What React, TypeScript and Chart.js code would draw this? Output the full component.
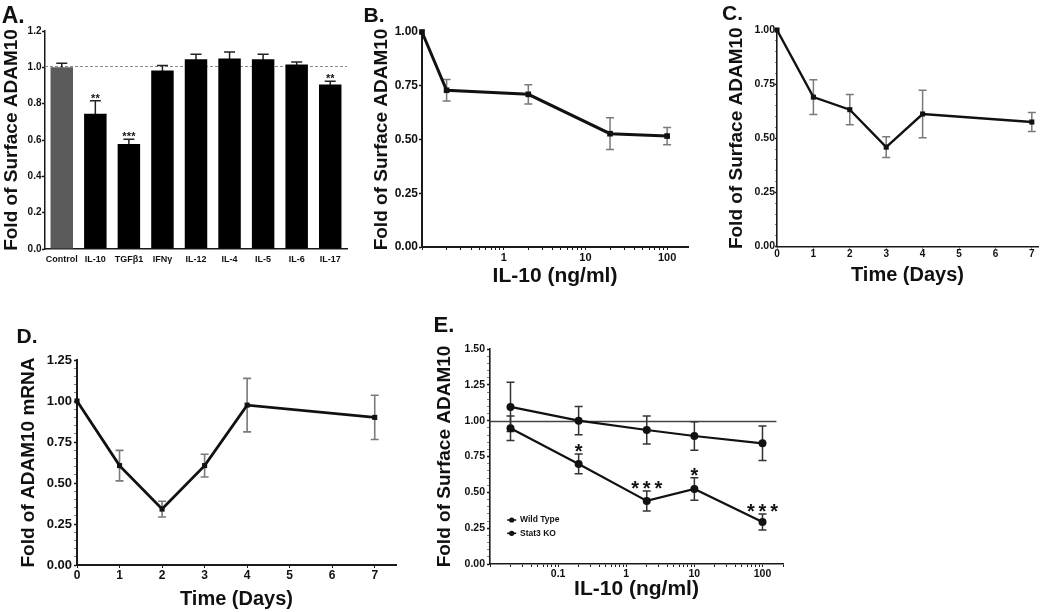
import React, { useEffect, useRef } from 'react';
import { Chart, registerables } from 'chart.js';

Chart.register(...registerables);

const FONT = '"Liberation Sans", Arial, Helvetica, sans-serif';
const INK = '#111111';
const AXIS = '#1a1a1a';
const ERR_GRAY = '#7a7a7a';
const CONTROL_GRAY = '#5b5b5b';

// ---------- Panel A: cytokine screen (bar chart) ----------
const aCategories = ['Control', 'IL-10', 'TGFβ1', 'IFNγ', 'IL-12', 'IL-4', 'IL-5', 'IL-6', 'IL-17'];
const aValues = [1.0, 0.744, 0.578, 0.982, 1.044, 1.048, 1.044, 1.015, 0.906];
const aErrors = [0.022, 0.072, 0.026, 0.028, 0.028, 0.037, 0.028, 0.015, 0.018];
const aStars = ['', '**', '***', '', '', '', '', '', '**'];
const aReferenceLine = 1.01;
const aYTicks = [0, 0.2, 0.4, 0.6, 0.8, 1.0, 1.2];

// ---------- Panel B: IL-10 dose response ----------
const bDoses = [0.1, 0.2, 2, 20, 100];
const bValues = [1.0, 0.729, 0.71, 0.527, 0.516];
const bErrors = [0, 0.05, 0.045, 0.074, 0.04];
const bXLabels = [1, 10, 100];
const bYTicks = [0, 0.25, 0.5, 0.75, 1.0];

// ---------- Panel C: time course (surface) ----------
const cDays = [0, 1, 2, 3, 4, 7];
const cValues = [1.0, 0.69, 0.632, 0.459, 0.612, 0.575];
const cErrors = [0, 0.08, 0.07, 0.048, 0.11, 0.044];
const cXTicks = [0, 1, 2, 3, 4, 5, 6, 7];
const cYTicks = [0, 0.25, 0.5, 0.75, 1.0];

// ---------- Panel D: time course (mRNA) ----------
const dDays = [0, 1, 2, 3, 4, 7];
const dValues = [1.0, 0.606, 0.341, 0.606, 0.975, 0.9];
const dErrors = [0, 0.093, 0.048, 0.069, 0.163, 0.135];
const dXTicks = [0, 1, 2, 3, 4, 5, 6, 7];
const dYTicks = [0, 0.25, 0.5, 0.75, 1.0, 1.25];

// ---------- Panel E: Wild Type vs Stat3 KO ----------
const eDoses = [0.02, 0.2, 2, 10, 100];
const eWildType = [0.947, 0.698, 0.44, 0.523, 0.293];
const eWildTypeErr = [0.085, 0.069, 0.07, 0.078, 0.055];
const eStat3KO = [1.096, 1.0, 0.935, 0.893, 0.842];
const eStat3KOErr = [0.172, 0.099, 0.098, 0.099, 0.12];
const eStars = ['', '*', '***', '*', '***'];
const eXLabels = [0.1, 1, 10, 100];
const eYTicks = [0, 0.25, 0.5, 0.75, 1.0, 1.25, 1.5];
const eReferenceLine = 1.0;
const eReferenceLineEnd = 160;

// ---------- helpers ----------
const near = (a: number, b: number) => Math.abs(a - b) < 1e-6 * Math.max(1, Math.abs(b));
const hasVal = (list: number[], v: number) => list.some((x) => near(x, v));

function stepTicks(min: number, max: number, step: number): number[] {
  const n = Math.round((max - min) / step);
  const out: number[] = [];
  for (let i = 0; i <= n; i++) out.push(parseFloat((min + i * step).toFixed(6)));
  return out;
}

function logTicks(min: number, max: number): number[] {
  const out: number[] = [];
  for (let p = Math.floor(Math.log10(min)); p <= Math.ceil(Math.log10(max)); p++) {
    for (let m = 1; m <= 9; m++) {
      const v = parseFloat((m * Math.pow(10, p)).toPrecision(6));
      if (v >= min * (1 - 1e-9) && v <= max * (1 + 1e-9)) out.push(v);
    }
  }
  return out;
}

type YOpts = {
  min: number; max: number; ticks: number[]; labels: number[]; decimals: number; size: number;
  tickLength: number; pad: number; width: number; title: string; titlePad: number; border: number;
};

function yAxis(o: YOpts) {
  return {
    type: 'linear',
    position: 'left',
    min: o.min,
    max: o.max,
    afterBuildTicks: (s: any) => { s.ticks = o.ticks.map((v) => ({ value: v })); },
    afterFit: (s: any) => { s.width = o.width; },
    ticks: {
      autoSkip: false,
      padding: o.pad,
      color: INK,
      font: { family: FONT, weight: 'bold', size: o.size },
      callback: (v: any) => (hasVal(o.labels, Number(v)) ? Number(v).toFixed(o.decimals) : ''),
    },
    grid: {
      display: true,
      drawOnChartArea: false,
      drawTicks: true,
      tickLength: o.tickLength,
      tickColor: (c: any) => (c.tick && hasVal(o.labels, c.tick.value) ? AXIS : '#808080'),
      tickWidth: (c: any) => (c.tick && hasVal(o.labels, c.tick.value) ? 1.3 : 1),
    },
    border: { display: true, color: AXIS, width: o.border },
    title: {
      display: true,
      text: o.title,
      color: INK,
      font: { family: FONT, weight: 'bold', size: 19 },
      padding: { top: o.titlePad, bottom: 0 },
    },
  };
}

type XOpts = {
  type: 'linear' | 'logarithmic'; min: number; max: number; ticks: number[]; labels: number[];
  size: number; lineHeight?: number; tickLength: number; pad: number; height: number; title: string;
  titleSize: number; titlePadBottom: number; border: number;
};

function xAxis(o: XOpts) {
  return {
    type: o.type,
    position: 'bottom',
    min: o.min,
    max: o.max,
    afterBuildTicks: (s: any) => { s.ticks = o.ticks.map((v) => ({ value: v })); },
    afterFit: (s: any) => { s.height = o.height; },
    ticks: {
      autoSkip: false,
      maxRotation: 0,
      minRotation: 0,
      padding: o.pad,
      color: INK,
      font: { family: FONT, weight: 'bold', size: o.size, lineHeight: o.lineHeight ?? 1.2 },
      callback: (v: any) => (hasVal(o.labels, Number(v)) ? String(Number(v)) : ''),
    },
    grid: {
      display: true,
      drawOnChartArea: false,
      drawTicks: true,
      tickLength: o.tickLength,
      tickColor: AXIS,
      tickWidth: 1,
    },
    border: { display: true, color: AXIS, width: o.border },
    title: {
      display: true,
      text: o.title,
      color: INK,
      font: { family: FONT, weight: 'bold', size: o.titleSize },
      padding: { top: 0, bottom: o.titlePadBottom },
    },
  };
}

type ErrSet = { datasetIndex: number; values: number[]; errors: number[]; color: string; width: number; cap: number };
type Extras = {
  refLines?: { value: number; color: string; width: number; dash?: number[]; to?: number }[];
  errorSets?: ErrSet[];
  stars?: { datasetIndex: number; values: number[]; errors: number[]; labels: string[]; size: number; gap: number; spacing: number };
  legend?: { datasets: number[]; dx: number; dy: number; row: number; size: number; radius: number; lineHalf: number; textGap: number };
};

function extrasPlugin(cfg: Extras) {
  return {
    id: 'extras',
    beforeDatasetsDraw(chart: any) {
      const { ctx, chartArea, scales } = chart;
      const x = scales.x;
      const y = scales.y;
      (cfg.refLines || []).forEach((r) => {
        ctx.save();
        ctx.strokeStyle = r.color;
        ctx.lineWidth = r.width;
        ctx.setLineDash(r.dash || []);
        const py = Math.round(y.getPixelForValue(r.value)) + 0.5;
        const x1 = r.to != null ? x.getPixelForValue(r.to) : chartArea.right;
        ctx.beginPath();
        ctx.moveTo(chartArea.left, py);
        ctx.lineTo(x1, py);
        ctx.stroke();
        ctx.restore();
      });
      (cfg.errorSets || []).forEach((set) => {
        const meta = chart.getDatasetMeta(set.datasetIndex);
        ctx.save();
        ctx.strokeStyle = set.color;
        ctx.lineWidth = set.width;
        ctx.setLineDash([]);
        meta.data.forEach((el: any, i: number) => {
          const e = set.errors[i];
          if (!e) return;
          const v = set.values[i];
          const px = el.x;
          const t = y.getPixelForValue(v + e);
          const b = y.getPixelForValue(v - e);
          const h = set.cap / 2;
          ctx.beginPath();
          ctx.moveTo(px, t);
          ctx.lineTo(px, b);
          ctx.moveTo(px - h, t);
          ctx.lineTo(px + h, t);
          ctx.moveTo(px - h, b);
          ctx.lineTo(px + h, b);
          ctx.stroke();
        });
        ctx.restore();
      });
    },
    afterDatasetsDraw(chart: any) {
      const { ctx, chartArea, scales } = chart;
      const y = scales.y;
      if (cfg.stars) {
        const s = cfg.stars;
        const meta = chart.getDatasetMeta(s.datasetIndex);
        ctx.save();
        ctx.fillStyle = INK;
        ctx.font = `bold ${s.size}px ${FONT}`;
        ctx.textAlign = 'center';
        ctx.textBaseline = 'alphabetic';
        meta.data.forEach((el: any, i: number) => {
          const label = s.labels[i];
          if (!label) return;
          const cy = y.getPixelForValue(s.values[i] + s.errors[i]) - s.gap;
          const base = cy + 0.57 * s.size;
          const n = label.length;
          for (let k = 0; k < n; k++) {
            ctx.fillText(label[k], el.x + (k - (n - 1) / 2) * s.spacing, base);
          }
        });
        ctx.restore();
      }
      if (cfg.legend) {
        const L = cfg.legend;
        ctx.save();
        ctx.font = `bold ${L.size}px ${FONT}`;
        ctx.textAlign = 'left';
        ctx.textBaseline = 'middle';
        L.datasets.forEach((di, r) => {
          const ds = chart.data.datasets[di];
          const cx = chartArea.left + L.dx;
          const cy = chartArea.bottom + L.dy + r * L.row;
          ctx.strokeStyle = INK;
          ctx.fillStyle = INK;
          ctx.lineWidth = 1.6;
          ctx.beginPath();
          ctx.moveTo(cx - L.lineHalf, cy);
          ctx.lineTo(cx + L.lineHalf, cy);
          ctx.stroke();
          ctx.beginPath();
          ctx.arc(cx, cy, L.radius, 0, Math.PI * 2);
          ctx.fill();
          ctx.fillText(ds.label, cx + L.textGap, cy);
        });
        ctx.restore();
      }
    },
  };
}

const common = {
  responsive: false,
  maintainAspectRatio: false,
  animation: false,
  devicePixelRatio: 1,
  events: [],
  plugins: { legend: { display: false }, tooltip: { enabled: false }, title: { display: false } },
};

function lineSet(label: string, xs: number[], ys: number[], o: { width: number; radius: number; style: string }) {
  return {
    label,
    data: xs.map((x, i) => ({ x, y: ys[i] })),
    borderColor: INK,
    backgroundColor: INK,
    borderWidth: o.width,
    pointStyle: o.style,
    pointRadius: o.radius,
    pointBackgroundColor: INK,
    pointBorderColor: INK,
    pointBorderWidth: 0,
    tension: 0,
    fill: false,
    clip: false,
  };
}

// ---------- chart configs ----------
const configA = () => ({
  type: 'bar',
  data: {
    labels: aCategories,
    datasets: [{
      label: 'Fold of Surface ADAM10',
      data: aValues,
      backgroundColor: (c: any) => (c.dataIndex === 0 ? CONTROL_GRAY : '#000000'),
      barPercentage: 0.67,
      categoryPercentage: 1,
      borderWidth: 0,
    }],
  },
  options: {
    ...common,
    layout: { padding: { left: 0, right: 3, top: 31, bottom: 0 } },
    scales: {
      x: {
        type: 'category',
        offset: true,
        afterFit: (s: any) => { s.height = 36; },
        grid: { display: false, drawTicks: false },
        border: { display: true, color: AXIS, width: 1.5 },
        ticks: { padding: 5.6, autoSkip: false, maxRotation: 0, minRotation: 0, color: INK, font: { family: FONT, weight: 'bold', size: 9 } },
      },
      y: yAxis({ min: 0, max: 1.2, ticks: aYTicks, labels: aYTicks, decimals: 1, size: 10, tickLength: 3, pad: 0.5, width: 45, title: 'Fold of Surface ADAM10', titlePad: 0.6, border: 1.5 }),
    },
  },
  plugins: [extrasPlugin({
    refLines: [{ value: aReferenceLine, color: '#8a8a8a', width: 1, dash: [3, 2] }],
    errorSets: [{ datasetIndex: 0, values: aValues, errors: aErrors, color: '#222', width: 1.5, cap: 11 }],
    stars: { datasetIndex: 0, values: aValues, errors: aErrors, labels: aStars, size: 11, gap: 5.5, spacing: 4.4 },
  })],
});

const configB = () => ({
  type: 'line',
  data: { datasets: [lineSet('IL-10 dose', bDoses, bValues, { width: 3, radius: 4, style: 'rect' })] },
  options: {
    ...common,
    layout: { padding: { left: 0, right: 12, top: 32, bottom: 0 } },
    scales: {
      x: xAxis({ type: 'logarithmic', min: 0.1, max: 180, ticks: logTicks(0.1, 180), labels: bXLabels, size: 11, tickLength: 3, pad: 1.4, height: 45, title: 'IL-10 (ng/ml)', titleSize: 21, titlePadBottom: 2.7, border: 2 }),
      y: yAxis({ min: 0, max: 1.0, ticks: bYTicks, labels: bYTicks, decimals: 2, size: 12, tickLength: 3, pad: 1, width: 72, title: 'Fold of Surface ADAM10', titlePad: 20.1, border: 2 }),
    },
  },
  plugins: [extrasPlugin({
    errorSets: [{ datasetIndex: 0, values: bValues, errors: bErrors, color: ERR_GRAY, width: 1.5, cap: 8 }],
  })],
});

const configC = () => ({
  type: 'line',
  data: { datasets: [lineSet('Time course', cDays, cValues, { width: 2.4, radius: 3.6, style: 'rect' })] },
  options: {
    ...common,
    layout: { padding: { left: 0, right: 12, top: 30, bottom: 0 } },
    scales: {
      x: xAxis({ type: 'linear', min: 0, max: 7.17, ticks: cXTicks, labels: cXTicks, size: 10, tickLength: 2, pad: 0, height: 43.5, title: 'Time (Days)', titleSize: 20, titlePadBottom: 2.3, border: 1.6 }),
      y: yAxis({ min: 0, max: 1.0, ticks: stepTicks(0, 1.0, 0.05), labels: cYTicks, decimals: 2, size: 10.5, tickLength: 2, pad: 0, width: 77, title: 'Fold of Surface ADAM10', titlePad: 25.1, border: 1.6 }),
    },
  },
  plugins: [extrasPlugin({
    errorSets: [{ datasetIndex: 0, values: cValues, errors: cErrors, color: ERR_GRAY, width: 1.5, cap: 8 }],
  })],
});

const configD = () => ({
  type: 'line',
  data: { datasets: [lineSet('mRNA', dDays, dValues, { width: 2.8, radius: 3.6, style: 'rect' })] },
  options: {
    ...common,
    layout: { padding: { left: 0, right: 3.5, top: 60, bottom: 0 } },
    scales: {
      x: xAxis({ type: 'linear', min: 0, max: 7.5, ticks: dXTicks, labels: dXTicks, size: 12, tickLength: 3, pad: 0, height: 47, title: 'Time (Days)', titleSize: 20, titlePadBottom: 0.1, border: 2 }),
      y: yAxis({ min: 0, max: 1.25, ticks: stepTicks(0, 1.25, 0.05), labels: dYTicks, decimals: 2, size: 13, tickLength: 3, pad: 2, width: 77, title: 'Fold of ADAM10 mRNA', titlePad: 17.1, border: 2 }),
    },
  },
  plugins: [extrasPlugin({
    errorSets: [{ datasetIndex: 0, values: dValues, errors: dErrors, color: ERR_GRAY, width: 1.6, cap: 8 }],
  })],
});

const configE = () => ({
  type: 'line',
  data: {
    datasets: [
      lineSet('Wild Type', eDoses, eWildType, { width: 2.2, radius: 4, style: 'circle' }),
      lineSet('Stat3 KO', eDoses, eStat3KO, { width: 2.2, radius: 4, style: 'circle' }),
    ],
  },
  options: {
    ...common,
    layout: { padding: { left: 0, right: 17, top: 49, bottom: 0 } },
    scales: {
      x: xAxis({ type: 'logarithmic', min: 0.01, max: 200, ticks: logTicks(0.01, 200), labels: eXLabels, size: 10.5, tickLength: 3, pad: 0.7, height: 48, title: 'IL-10 (ng/ml)', titleSize: 21, titlePadBottom: 10.5, border: 1.6 }),
      y: yAxis({ min: 0, max: 1.5, ticks: stepTicks(0, 1.5, 0.05), labels: eYTicks, decimals: 2, size: 10.5, tickLength: 3, pad: 2, width: 90, title: 'Fold of Surface ADAM10', titlePad: 33.6, border: 1.6 }),
    },
  },
  plugins: [extrasPlugin({
    refLines: [{ value: eReferenceLine, color: '#444', width: 1.6, to: eReferenceLineEnd }],
    errorSets: [
      { datasetIndex: 0, values: eWildType, errors: eWildTypeErr, color: '#333', width: 1.5, cap: 8 },
      { datasetIndex: 1, values: eStat3KO, errors: eStat3KOErr, color: '#333', width: 1.5, cap: 8 },
    ],
    stars: { datasetIndex: 0, values: eWildType, errors: eWildTypeErr, labels: eStars, size: 20, gap: 7.5, spacing: 11.6 },
    legend: { datasets: [0, 1], dx: 21.7, dy: -44, row: 13.3, size: 8.5, radius: 2.6, lineHalf: 4.5, textGap: 8.3 },
  })],
});

function ChartPanel(props: { left: number; top: number; width: number; height: number; config: () => any }) {
  const ref = useRef<HTMLCanvasElement>(null);
  useEffect(() => {
    const chart = new Chart(ref.current as HTMLCanvasElement, props.config());
    return () => chart.destroy();
  }, []);
  return (
    <canvas
      ref={ref}
      width={props.width}
      height={props.height}
      style={{ position: 'absolute', left: props.left, top: props.top, width: props.width, height: props.height }}
    />
  );
}

function PanelLabel(props: { text: string; left: number; top: number; size: number }) {
  return (
    <div
      style={{
        position: 'absolute',
        left: props.left,
        top: props.top,
        fontFamily: FONT,
        fontWeight: 'bold',
        fontSize: props.size,
        lineHeight: 1,
        color: INK,
        whiteSpace: 'nowrap',
      }}
    >
      {props.text}
    </div>
  );
}

export default function App() {
  return (
    <div style={{ position: 'absolute', left: 0, top: 0, width: 1050, height: 612, background: '#ffffff', overflow: 'hidden' }}>
      <ChartPanel left={0} top={0} width={350} height={285} config={configA} />
      <ChartPanel left={350} top={0} width={350} height={292} config={configB} />
      <ChartPanel left={700} top={0} width={350} height={290} config={configC} />
      <ChartPanel left={0} top={300} width={400} height={312} config={configD} />
      <ChartPanel left={400} top={300} width={400} height={312} config={configE} />
      <PanelLabel text="A." left={1.7} top={3.7} size={23} />
      <PanelLabel text="B." left={363.5} top={4} size={21} />
      <PanelLabel text="C." left={722} top={2.3} size={21} />
      <PanelLabel text="D." left={16.5} top={325.3} size={21} />
      <PanelLabel text="E." left={433.5} top={314} size={22} />
    </div>
  );
}
